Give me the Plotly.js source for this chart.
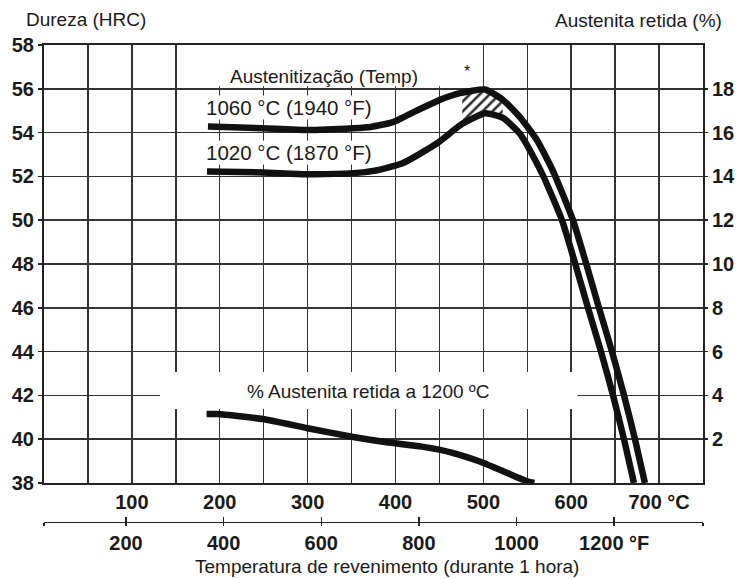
<!DOCTYPE html>
<html><head><meta charset="utf-8">
<script src="https://cdn.plot.ly/plotly-3.0.1.min.js"></script>
<style>body{margin:0;background:#fff}</style>
</head><body><div id="chart" style="width:738px;height:579px"></div>
<script>
// Hardness curves (temperature °C, HRC)
const temp1060 = [186.6, 249, 300, 352, 372, 397, 425.6, 453, 473.4, 502, 522.4, 541.7, 561, 579.8, 602.0, 616.8, 631.6, 646.4, 660.1, 672.6, 683.9];
const hrc1060  = [54.28, 54.2, 54.12, 54.2, 54.26, 54.48, 55.03, 55.53, 55.8, 55.97, 55.49, 54.71, 53.66, 52.2, 50.0, 48.05, 46.0, 44.0, 42.0, 40.0, 38.0];
const temp1020 = [185.5, 249, 300, 352, 375, 408, 447, 476, 502, 522.4, 541.7, 557, 569, 589.5, 604.3, 619.1, 633.9, 647.6, 660.1, 671.4];
const hrc1020  = [52.22, 52.18, 52.1, 52.15, 52.25, 52.6, 53.5, 54.4, 54.88, 54.67, 53.95, 52.9, 51.95, 50.0, 48.05, 46.0, 44.0, 42.0, 40.0, 38.0];
// Retained austenite at 1200 °C (temperature °C, %)
const tempRA = [185, 198, 249, 300, 352, 390, 430, 465, 496, 527, 550, 558];
const pctRA  = [3.15, 3.15, 2.92, 2.5, 2.1, 1.86, 1.66, 1.38, 0.98, 0.46, 0.08, 0.0];
// Hatched zone between the two hardness curves
const hatchTemp = [476, 502, 522, 522, 502, 476];
const hatchHRC  = [55.8, 55.97, 55.49, 54.67, 54.88, 54.4];
// Axes
const celsiusTicks  = [50, 100, 150, 200, 250, 300, 350, 400, 450, 500, 550, 600, 650, 700];
const celsiusLabels = ['', '100', '', '200', '', '300', '', '400', '', '500', '', '600', '', '700 °C'];
const fahrenheitTicks  = [32, 200, 400, 600, 800, 1000, 1200, 1382];
const fahrenheitLabels = ['', '200', '400', '600', '800', '1000', '1200 °F', ''];
const hrcTicks = [38, 40, 42, 44, 46, 48, 50, 52, 54, 56, 58];
const pctTicks = [2, 4, 6, 8, 10, 12, 14, 16, 18];

const FONT = 'Liberation Sans, Arial, sans-serif';
const INK = '#111';
const GRID = '#333';

const traces = [
  {x: hatchTemp, y: hatchHRC, mode: 'lines', fill: 'toself', line: {width: 0, color: 'rgba(0,0,0,0)'},
   fillcolor: 'white', fillpattern: {shape: '/', fgcolor: '#222', bgcolor: 'white', size: 7, solidity: 0.35},
   hoverinfo: 'skip', showlegend: false},
  {x: temp1060, y: hrc1060, mode: 'lines', line: {color: INK, width: 6.5, shape: 'spline', smoothing: 0.5}, showlegend: false},
  {x: temp1020, y: hrc1020, mode: 'lines', line: {color: INK, width: 6.5, shape: 'spline', smoothing: 0.5}, showlegend: false},
  {x: tempRA, y: pctRA, yaxis: 'y2', mode: 'lines', line: {color: INK, width: 6.5, shape: 'spline', smoothing: 0.5}, showlegend: false},
  {x: fahrenheitTicks, y: fahrenheitTicks.map(() => 38), xaxis: 'x2', mode: 'markers', marker: {opacity: 0, size: 1}, hoverinfo: 'skip', showlegend: false},
  {x: fahrenheitTicks, y: fahrenheitTicks.map(() => 38), xaxis: 'x3', mode: 'markers', marker: {opacity: 0, size: 1}, hoverinfo: 'skip', showlegend: false}
];

const tickFont = {family: FONT, size: 20, color: '#1a1a1a', weight: 'bold'};
const txtFont = {family: FONT, size: 19, color: '#1a1a1a'};

const layout = {
  width: 738, height: 579,
  margin: {l: 44, r: 35, t: 45, b: 10},
  paper_bgcolor: 'white', plot_bgcolor: 'white',
  font: {family: FONT},
  xaxis: {
    range: [0, 750], tickmode: 'array', tickvals: celsiusTicks, ticktext: celsiusLabels,
    showgrid: true, gridcolor: GRID, gridwidth: 1.5, zeroline: false,
    showline: true, mirror: true, linecolor: '#222', linewidth: 2,
    ticks: '', tickfont: tickFont, anchor: 'y'
  },
  xaxis2: {
    overlaying: 'x', anchor: 'free', position: 0.0897, range: [32, 1382],
    tickmode: 'array', tickvals: fahrenheitTicks, ticktext: fahrenheitLabels,
    showgrid: false, zeroline: false, showline: true, linecolor: '#222', linewidth: 1.5,
    ticks: 'outside', ticklen: 3, tickwidth: 1.5, tickcolor: '#222', tickfont: tickFont
  },
  xaxis3: {
    overlaying: 'x', anchor: 'free', position: 0.0897, range: [32, 1382],
    tickmode: 'array', tickvals: fahrenheitTicks, showticklabels: false,
    showgrid: false, zeroline: false, showline: false,
    ticks: 'inside', ticklen: 5, tickwidth: 1.5, tickcolor: '#222'
  },
  yaxis: {
    domain: [0.16412, 1], range: [38, 58], tickmode: 'array', tickvals: hrcTicks,
    showgrid: true, gridcolor: GRID, gridwidth: 1.5, zeroline: false,
    showline: true, mirror: true, linecolor: '#222', linewidth: 2,
    ticks: 'outside', ticklen: 4, tickwidth: 1.5, tickcolor: '#222', tickfont: tickFont
  },
  yaxis2: {
    overlaying: 'y', side: 'right', range: [0, 20], tickmode: 'array', tickvals: pctTicks,
    showgrid: false, zeroline: false, showline: false,
    ticks: 'outside', ticklen: 4, tickwidth: 1.5, tickcolor: '#222', tickfont: tickFont
  },
  shapes: [
    {type: 'rect', xref: 'x', yref: 'y', x0: 166, x1: 485, y0: 56.12, y1: 58, fillcolor: 'white', line: {width: 0}, layer: 'between'},
    {type: 'rect', xref: 'x', yref: 'y', x0: 132, x1: 607, y0: 41.38, y1: 43.07, fillcolor: 'white', line: {width: 0}, layer: 'between'}
  ],
  annotations: [
    {xref: 'paper', yref: 'paper', x: 0.063, y: 1.0496, text: 'Dureza (HRC)', showarrow: false, font: txtFont, xanchor: 'center', yanchor: 'middle'},
    {xref: 'paper', yref: 'paper', x: 0.9014, y: 1.0477, text: 'Austenita retida (%)', showarrow: false, font: txtFont, xanchor: 'center', yanchor: 'middle'},
    {xref: 'paper', yref: 'paper', x: 0.5205, y: 0.0057, text: 'Temperatura de revenimento (durante 1 hora)', showarrow: false, font: txtFont, xanchor: 'center', yanchor: 'middle'},
    {xref: 'x', yref: 'y', x: 318.6, y: 56.58, text: 'Austenitização (Temp)', showarrow: false, font: txtFont, xanchor: 'center', yanchor: 'middle'},
    {xref: 'x', yref: 'y', x: 279, y: 55.15, text: '1060 °C (1940 °F)', showarrow: false, font: {family: FONT, size: 20.5, color: '#1a1a1a'}, xanchor: 'center', yanchor: 'middle', bgcolor: 'white', borderpad: 0},
    {xref: 'x', yref: 'y', x: 279, y: 53.11, text: '1020 °C (1870 °F)', showarrow: false, font: {family: FONT, size: 20.5, color: '#1a1a1a'}, xanchor: 'center', yanchor: 'middle', bgcolor: 'white', borderpad: 0},
    {xref: 'x', yref: 'y', x: 369, y: 42.16, text: '% Austenita retida a 1200 ºC', showarrow: false, font: txtFont, xanchor: 'center', yanchor: 'middle'},
    {xref: 'x', yref: 'y', x: 481, y: 56.8, text: '*', showarrow: false, font: {family: FONT, size: 16, color: '#111'}, xanchor: 'center', yanchor: 'middle'}
  ]
};

Plotly.newPlot('chart', traces, layout, {staticPlot: true, displayModeBar: false});
</script>
</body></html>
